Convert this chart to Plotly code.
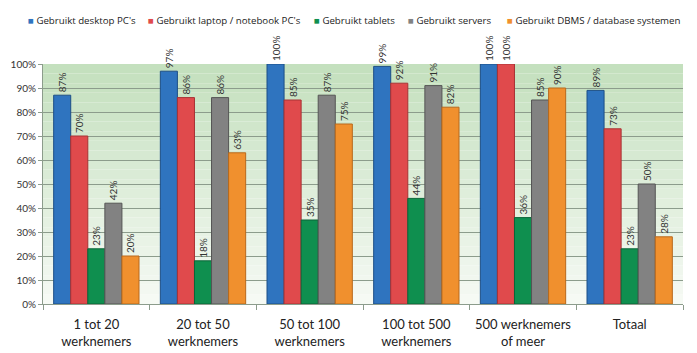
import plotly.graph_objects as go

categories = ["1 tot 20<br>werknemers", "20 tot 50<br>werknemers", "50 tot 100<br>werknemers",
              "100 tot 500<br>werknemers", "500 werknemers<br>of meer", "Totaal"]
series_names = ["Gebruikt desktop PC's", "Gebruikt laptop / notebook PC's", "Gebruikt tablets",
                "Gebruikt servers", "Gebruikt DBMS / database systemen"]
desktop = [87, 97, 100, 99, 100, 89]
laptop = [70, 86, 85, 92, 100, 73]
tablets = [23, 18, 35, 44, 36, 23]
servers = [42, 86, 87, 91, 85, 50]
dbms = [20, 63, 75, 82, 90, 28]
y_ticks = list(range(0, 101, 10))

colors = ["#2f74bf", "#e04a4c", "#0f8f4f", "#828282", "#f0902e"]
edges = ["#1d4f86", "#a83234", "#0a6538", "#555555", "#b9691c"]
values = [desktop, laptop, tablets, servers, dbms]

W, H = 697, 353
L, R, T, B = 43, 14, 64, 49
legend_px = [26, 146, 312, 406, 505]

fig = go.Figure()
# background gradient
n = 25
top = (196, 224, 190)
bot = (246, 250, 244)
for i in range(n):
    f = i / (n - 1)
    c = tuple(int(bot[k] + (top[k] - bot[k]) * f) for k in range(3))
    fig.add_shape(type="rect", xref="paper", yref="y", x0=0, x1=1,
                  y0=100 * i / n, y1=100 * (i + 1) / n,
                  fillcolor="rgb(%d,%d,%d)" % c, line_width=0, layer="below")

for name, vals, col, ec in zip(series_names, values, colors, edges):
    fig.add_trace(go.Bar(
        name=name, x=categories, y=vals, showlegend=False,
        marker=dict(color=col, line=dict(color=ec, width=1)),
        text=[f"{v}%" for v in vals], textposition="outside", textangle=-90,
        textfont=dict(size=10, color="#333333"), cliponaxis=False,
        constraintext="none",
    ))

pw = W - L - R
for name, col, px in zip(series_names, colors, legend_px):
    fig.add_annotation(
        xref="paper", yref="paper", x=(px - L) / pw, y=1 + (T - 20) / (H - T - B),
        xanchor="left", yanchor="middle", showarrow=False,
        text=f'<span style="color:{col}">■</span> {name}',
        font=dict(family="Open Sans, sans-serif", size=9.7, color="#222222"),
    )

fig.update_layout(
    width=W, height=H,
    margin=dict(l=L, r=R, t=T, b=B),
    paper_bgcolor="white", plot_bgcolor="rgba(0,0,0,0)",
    barmode="group", bargap=0.2, bargroupgap=0,
    font=dict(family="Lato, Open Sans, sans-serif", color="#222222"),
    showlegend=False,
)
fig.update_yaxes(range=[0, 100], tickvals=y_ticks, ticktext=[f"{v}%" for v in y_ticks],
                 gridcolor="#8c9c8c", gridwidth=1, showline=True, linecolor="#8c9c8c",
                 tickfont=dict(size=10, color="#333333"), zeroline=False, ticks="outside",
                 ticklen=4, tickcolor="#8c9c8c", automargin=False)
fig.update_xaxes(showline=True, linecolor="#8c9c8c", tickfont=dict(size=13, color="#222222"),
                 ticks="outside", ticklen=5, tickcolor="#8c9c8c", tickson="boundaries",
                 showgrid=False, ticklabelstandoff=8, automargin=False)

fig.write_html("out.html")
